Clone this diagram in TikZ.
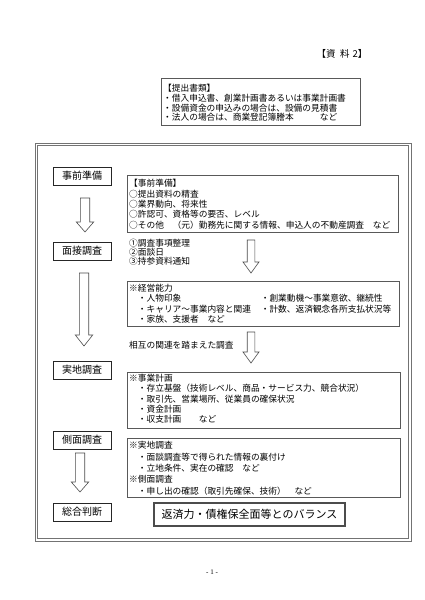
\documentclass[tikz,border=0pt]{standalone}
\usepackage{fontspec}
\setmainfont{Noto Sans CJK JP}
\newfontfamily\pgnumfont{Liberation Serif}
\newcommand\hollowdown[6]{%
  \draw[hollow] (#1-#5,#2) -- (#1+#5,#2) -- (#1+#5,#3) -- (#1+#6,#3) -- (#1,#4)
    -- (#1-#6,#3) -- (#1-#5,#3) -- cycle;}
\begin{document}
\begin{tikzpicture}[x=1pt,y=-1pt,
  frameline/.style={draw=black!55, line width=0.6pt},
  stagebox/.style={draw=black!85, line width=0.9pt, minimum width=58pt, minimum height=18pt,
    inner sep=0pt, font=\fontsize{10}{12}\selectfont},
  infobox/.style={draw=black!65, line width=1.2pt, anchor=north west, inner sep=0pt},
  body/.style={anchor=north west, inner sep=0pt, align=left},
  hollow/.style={draw=black!70, line width=0.6pt, fill=white}]
\useasboundingbox (0,0) rectangle (424,600);
\fill[white] (0,0) rectangle (424,600);

% title
\node[inner sep=0pt, font=\fontsize{9.5}{11}\selectfont] (title) at (342,54) {【資\hspace{4.5pt}料\hspace{3pt}2】};

% documents box
\node[infobox, minimum width=199pt, minimum height=47pt] (docs) at (161,78) {};
\node[body, font=\fontsize{8.7}{9.7}\selectfont] (docstext) at (163,84.1)
  {【提出書類】\\・借入申込書、創業計画書あるいは事業計画書\\・設備資金の申込みの場合は、設備の見積書\\・法人の場合は、商業登記簿謄本　　　など};

% outer double frame
\draw[frameline] (35,143) rectangle (411,541);
\draw[frameline] (37.5,145.5) rectangle (408.5,538.5);

% stage boxes
\node[stagebox] (s1) at (82,176) {事前準備};
\node[stagebox] (s2) at (82,251) {面接調査};
\node[stagebox] (s3) at (82,370) {実地調査};
\node[stagebox] (s4) at (82,440) {側面調査};
\node[stagebox] (s5) at (82,512) {総合判断};

% left hollow arrows
\hollowdown{85}{198}{222}{232}{4.7}{8.7}
\hollowdown{84}{273}{335}{346}{4.7}{8.7}
\hollowdown{80}{453}{482}{492}{4.7}{8.7}

% box 1
\node[infobox, minimum width=271pt, minimum height=57pt] (b1) at (127,175) {};
\node[body, font=\fontsize{8.7}{10.4}\selectfont] (b1text) at (129,179.1)
  {【事前準備】\\○提出資料の精査\\○業界動向、将来性\\○許認可、資格等の要否、レベル\\○その他　（元）勤務先に関する情報、申込人の不動産調査　など};

% interview notes
\node[body, font=\fontsize{8.7}{9}\selectfont] (notes) at (129,239.1)
  {①調査事項整理\\②面談日\\③持参資料通知};

\hollowdown{251}{240}{262}{273}{3.8}{8}

% box 2
\node[infobox, minimum width=272pt, minimum height=45pt] (b2) at (127,281) {};
\node[body, font=\fontsize{8.7}{10.3}\selectfont] (b2a) at (129,284.1)
  {※経営能力\\　・人物印象\\　・キャリア～事業内容と関連\\　・家族、支援者　など};
\node[body, font=\fontsize{8.7}{10.3}\selectfont] (b2b) at (260.6,294.4)
  {・創業動機～事業意欲、継続性\\・計数、返済観念各所支払状況等};

\hollowdown{251}{332}{352}{363}{3.8}{8}
\node[body, font=\fontsize{8.7}{10}\selectfont] (mutual) at (129,341.1) {相互の関連を踏まえた調査};

% box 3
\node[infobox, minimum width=273pt, minimum height=56pt] (b3) at (127,372) {};
\node[body, font=\fontsize{8.7}{10.25}\selectfont] (b3text) at (129,374.1)
  {※事業計画\\　・存立基盤（技術レベル、商品・サービス力、競合状況）\\　・取引先、営業場所、従業員の確保状況\\　・資金計画\\　・収支計画　　など};

% box 4
\node[infobox, minimum width=273pt, minimum height=59pt] (b4) at (127,438) {};
\node[body, font=\fontsize{8.7}{11.4}\selectfont] (b4text) at (129,441.1)
  {※実地調査\\　・面談調査等で得られた情報の裏付け\\　・立地条件、実在の確認　など\\※側面調査\\　・申し出の確認（取引先確保、技術）　など};

% balance box
\node[draw=black!70, line width=1.2pt, minimum width=191pt, minimum height=23pt, inner sep=0pt,
  font=\fontsize{11}{13}\selectfont] (balance) at (249.5,514.5) {返済力・債権保全面等とのバランス};

% page number
\node[inner sep=0pt, font=\pgnumfont\fontsize{7}{8}\selectfont] (pg) at (212,572) {- 1 -};
\end{tikzpicture}
\end{document}
